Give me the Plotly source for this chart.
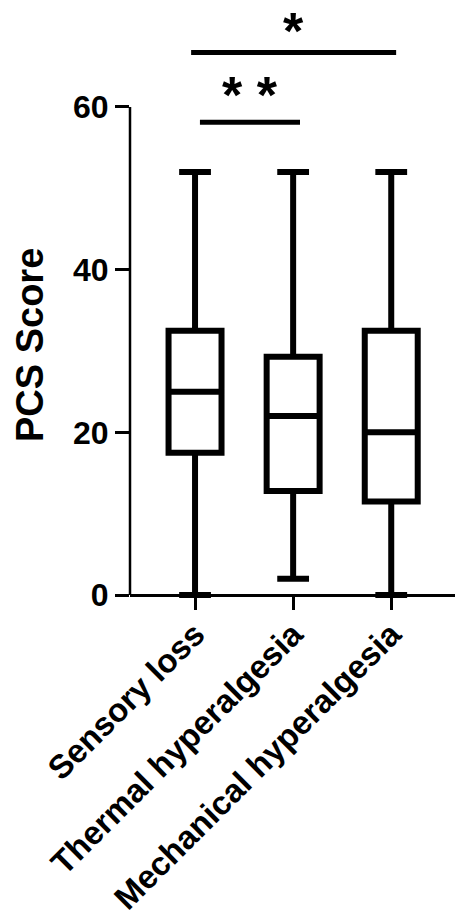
import plotly.graph_objects as go

# ---- data ----
categories = ["Sensory loss", "Thermal hyperalgesia", "Mechanical hyperalgesia"]
q1 = [17.5, 12.8, 11.5]
median = [25.0, 22.0, 20.0]
q3 = [32.5, 29.3, 32.5]
lower = [0.0, 2.0, 0.0]
upper = [52.0, 52.0, 52.0]
y_ticks = [0, 20, 40, 60]
y_title = "PCS Score"
# significance comparisons: (from index, to index, bar level, label)
sig_from = [0, 0]
sig_to = [1, 2]
sig_level = [58.1, 66.7]
sig_label = ["* *", "*"]

FONT = "Liberation Sans, Arial, Helvetica, sans-serif"
ymin, ymax = -1.47, 73.14
PXU = 8.135

fig = go.Figure()
fig.add_trace(go.Box(
    x=categories, q1=q1, median=median, q3=q3,
    lowerfence=lower, upperfence=upper,
    boxpoints=False, width=0.54, whiskerwidth=0.6,
    line=dict(color="black", width=6), fillcolor="white",
    showlegend=False, hoverinfo="skip",
))

shapes = [dict(type="line", xref="paper", yref="y", x0=0, x1=0, y0=0, y1=60,
               line=dict(color="black", width=2.5))]
annotations = []
label_offsets = [-0.4, -1.15]
for a, b, lvl, lab, off in zip(sig_from, sig_to, sig_level, sig_label, label_offsets):
    x0 = a + (0.05 if b == 1 else -0.04)
    x1 = b + (0.07 if b == 1 else 0.05)
    shapes.append(dict(type="line", xref="x", yref="y", x0=x0, x1=x1, y0=lvl, y1=lvl,
                       line=dict(color="black", width=5)))
    annotations.append(dict(x=(x0 + x1) / 2, y=lvl + off, xref="x", yref="y",
                            text=lab, showarrow=False, yanchor="bottom",
                            font=dict(family=FONT, size=52, color="black", weight="bold")))

annotations.append(dict(x=-100 / 325, y=(595 - 345) / PXU, xref="paper", yref="y",
                        text=y_title, textangle=-90, showarrow=False,
                        xanchor="center", yanchor="middle",
                        font=dict(family=FONT, size=38, color="black", weight="bold")))

fig.update_layout(
    width=455, height=915,
    margin=dict(l=130, r=0, t=0, b=308),
    paper_bgcolor="white", plot_bgcolor="white",
    shapes=shapes, annotations=annotations,
    xaxis=dict(type="category", range=[-0.663, 2.65], anchor="free",
               position=(0 - ymin) / (ymax - ymin),
               showline=True, linecolor="black", linewidth=2.5,
               ticks="outside", ticklen=13, tickwidth=2.5, tickcolor="black",
               tickangle=-45, ticklabelstandoff=-8,
               showgrid=False, zeroline=False, automargin=False,
               tickfont=dict(family=FONT, size=33, color="black", weight="bold")),
    yaxis=dict(range=[ymin, ymax], tickvals=y_ticks, showline=False,
               ticks="outside", ticklen=14, tickwidth=2.5, tickcolor="black",
               showgrid=False, zeroline=False, automargin=False,
               tickfont=dict(family=FONT, size=32, color="black", weight="bold")),
)

fig.write_html("out.html", config={"displayModeBar": False},
               post_script="document.body.style.margin='0px';")
